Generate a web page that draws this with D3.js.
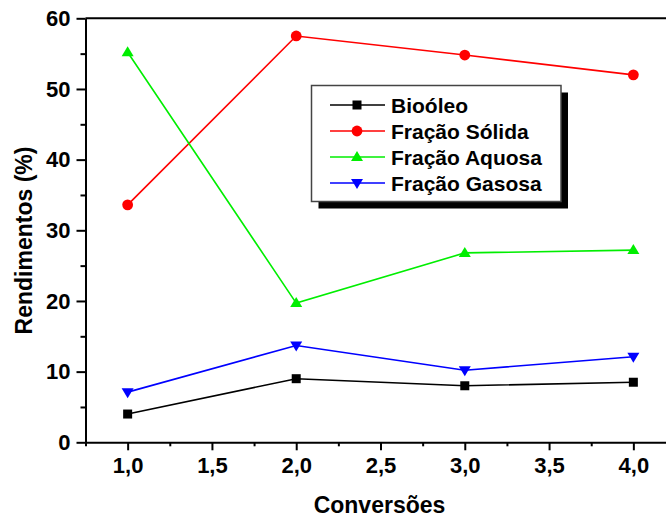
<!DOCTYPE html>
<html>
<head>
<meta charset="utf-8">
<script src="https://cdn.jsdelivr.net/npm/d3@7"></script>
<style>
  html, body { margin: 0; padding: 0; background: #fff; }
  svg { display: block; font-family: "Liberation Sans", Arial, sans-serif; font-weight: bold; }
</style>
</head>
<body>
<svg id="chart" width="666" height="518"></svg>
<script>
// Conversion levels (x) and yields (%) per fraction
const conversoes = [1.0, 2.0, 3.0, 4.0];
const bioOleo = [4.0, 9.0, 8.0, 8.5];
const fracaoSolida = [33.6, 57.5, 54.8, 52.0];
const fracaoAquosa = [55.2, 19.7, 26.8, 27.2];
const fracaoGasosa = [7.1, 13.7, 10.2, 12.1];

const seriesNames = ["Bioóleo", "Fração Sólida", "Fração Aquosa", "Fração Gasosa"];
const seriesColors = ["#000000", "#ff0000", "#00ee00", "#0000ff"];
const seriesMarkers = ["square", "circle", "triangleUp", "triangleDown"];

const xTicks = [1.0, 1.5, 2.0, 2.5, 3.0, 3.5, 4.0];
const yTicks = [0, 10, 20, 30, 40, 50, 60];

const series = [bioOleo, fracaoSolida, fracaoAquosa, fracaoGasosa].map((vals, i) => ({
  name: seriesNames[i],
  color: seriesColors[i],
  marker: seriesMarkers[i],
  points: conversoes.map((c, j) => ({ x: c, y: vals[j] }))
}));

const svg = d3.select("#chart");
const plotLeft = 85.5, plotRight = 675.5, plotTop = 18.3, plotBottom = 442.3;

const x = d3.scaleLinear().domain([0.75, 4.25]).range([plotLeft, plotRight]);
const y = d3.scaleLinear().domain([0, 60]).range([plotBottom, plotTop]);

const fmt = d => d3.format(".1f")(d).replace(".", ",");
const styleText = sel => sel.attr("font-size", 22)
  .attr("font-family", "Liberation Sans, Arial, sans-serif")
  .attr("font-weight", "bold").attr("fill", "#000");

// Frame (top and right sides)
svg.append("path")
  .attr("d", `M${plotLeft},${plotTop}H${plotRight}V${plotBottom}`)
  .attr("fill", "none").attr("stroke", "#000").attr("stroke-width", 2);

// X axis with minor ticks
const xMinor = d3.range(0.75, 4.26, 0.25).filter(v => !xTicks.some(t => Math.abs(t - v) < 1e-6));
svg.append("g").attr("transform", `translate(0,${plotBottom})`)
  .call(d3.axisBottom(x).tickValues(xMinor).tickSize(4).tickFormat(""))
  .call(g => g.select(".domain").remove())
  .call(g => g.selectAll("line").attr("stroke-width", 2));
svg.append("g").attr("transform", `translate(0,${plotBottom})`)
  .call(d3.axisBottom(x).tickValues(xTicks).tickSize(8).tickSizeOuter(0).tickPadding(7).tickFormat(fmt))
  .call(g => g.select(".domain").attr("stroke-width", 2))
  .call(g => g.selectAll("line").attr("stroke-width", 2))
  .call(g => styleText(g.selectAll("text")));

// Y axis with minor ticks
const yMinor = d3.range(5, 60, 10);
svg.append("g").attr("transform", `translate(${plotLeft},0)`)
  .call(d3.axisLeft(y).tickValues(yMinor).tickSize(5).tickFormat(""))
  .call(g => g.select(".domain").remove())
  .call(g => g.selectAll("line").attr("stroke-width", 2));
svg.append("g").attr("transform", `translate(${plotLeft},0)`)
  .call(d3.axisLeft(y).tickValues(yTicks).tickSize(9).tickSizeOuter(0).tickPadding(6).tickFormat(d3.format("d")))
  .call(g => g.select(".domain").attr("stroke-width", 2))
  .call(g => g.selectAll("line").attr("stroke-width", 2))
  .call(g => styleText(g.selectAll("text")));

// Axis titles
svg.append("text")
  .attr("x", (plotLeft + plotRight) / 2 - 1).attr("y", 513)
  .attr("text-anchor", "middle").attr("font-size", 23)
  .text("Conversões");
svg.append("text")
  .attr("transform", `translate(31.5,240.5) rotate(-90)`)
  .attr("text-anchor", "middle").attr("font-size", 23)
  .text("Rendimentos (%)");

// Marker drawing
function drawMarker(g, type, color, cx, cy) {
  if (type === "square") {
    g.append("rect").attr("x", cx - 4.5).attr("y", cy - 4.5).attr("width", 9).attr("height", 9).attr("fill", color);
  } else if (type === "circle") {
    g.append("circle").attr("cx", cx).attr("cy", cy).attr("r", 5.4).attr("fill", color);
  } else if (type === "triangleUp") {
    g.append("path").attr("d", `M${cx},${cy - 6}L${cx + 6},${cy + 4}L${cx - 6},${cy + 4}Z`).attr("fill", color);
  } else {
    g.append("path").attr("d", `M${cx},${cy + 6}L${cx + 6},${cy - 4}L${cx - 6},${cy - 4}Z`).attr("fill", color);
  }
}

const line = d3.line().x(d => x(d.x)).y(d => y(d.y));
series.forEach(s => {
  const g = svg.append("g");
  g.append("path").datum(s.points).attr("d", line)
    .attr("fill", "none").attr("stroke", s.color).attr("stroke-width", 1.6);
  s.points.forEach(p => drawMarker(g, s.marker, s.color, x(p.x), y(p.y)));
});

// Legend with drop shadow
const lg = svg.append("g");
const lx = 311.5, ly = 85.5, lw = 249.5, lh = 116;
lg.append("rect").attr("x", lx + 7).attr("y", ly + 7).attr("width", lw).attr("height", lh).attr("fill", "#000");
lg.append("rect").attr("x", lx).attr("y", ly).attr("width", lw).attr("height", lh)
  .attr("fill", "#fff").attr("stroke", "#444").attr("stroke-width", 1.5);
const rowY = [105, 131, 157, 183];
series.forEach((s, i) => {
  const cy = rowY[i];
  lg.append("line").attr("x1", 330).attr("x2", 385).attr("y1", cy).attr("y2", cy)
    .attr("stroke", s.color).attr("stroke-width", 1.6);
  drawMarker(lg, s.marker, s.color, 357, cy);
  lg.append("text").attr("x", 391).attr("y", cy).attr("dy", "0.36em")
    .attr("font-size", 21).text(s.name);
});
</script>
</body>
</html>
